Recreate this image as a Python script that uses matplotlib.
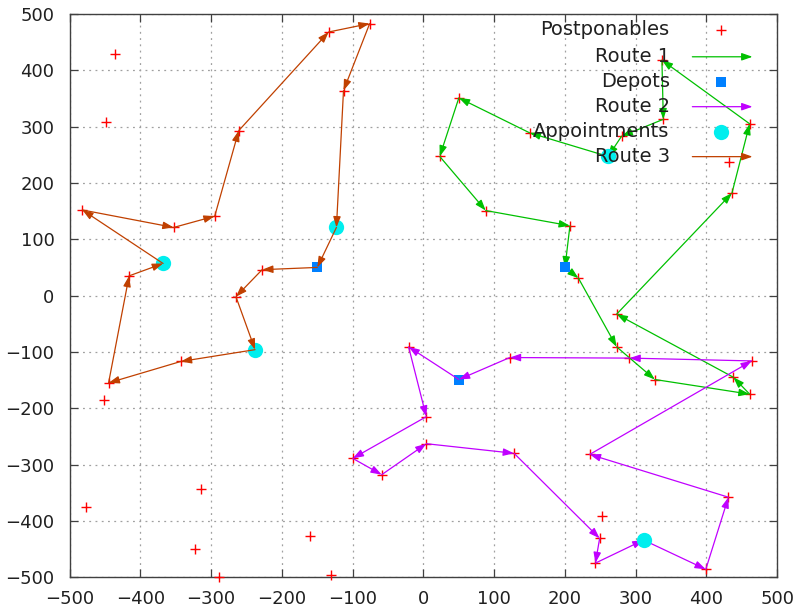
import matplotlib
matplotlib.use("Agg")
import matplotlib.pyplot as plt
from matplotlib.lines import Line2D

# ---------------- data ----------------
route1_x = [200, 219, 273, 327, 461, 438, 273, 436, 461, 337, 339, 280, 261, 150, 50, 23, 88, 207, 200]
route1_y = [50, 31, -91, -149, -175, -145, -33, 182, 305, 418, 313, 283, 247, 289, 351, 247, 151, 124, 50]

route2_x = [50, -21, 4, -100, -59, 4, 128, 249, 243, 311, 399, 431, 235, 464, 291, 122, 50]
route2_y = [-149, -91, -215, -289, -318, -263, -280, -431, -475, -434, -486, -358, -282, -116, -111, -110, -149]

route3_x = [-150, -228, -265, -238, -343, -445, -416, -368, -482, -353, -295, -261, -134, -76, -113, -123, -150]
route3_y = [50, 46, -2, -96, -117, -155, 35, 57, 152, 121, 141, 293, 468, 483, 364, 121, 50]

depot_x = [200, 50, -150]
depot_y = [50, -149, 50]

appt_x = [261, 311, -123, -238, -368]
appt_y = [247, -434, 121, -96, 57]

post_x = [219, 273, 327, 461, 438, 273, 436, 461, 337, 339, 280, 150, 50, 23, 88, 207,
          -21, 4, -100, -59, 4, 128, 249, 243, 399, 431, 235, 464, 291, 122,
          -228, -265, -343, -445, -416, -482, -353, -295, -261, -134, -76, -113,
          -436, -449, -451, -477, -314, -323, -289, -160, -130, 253, 432]
post_y = [31, -91, -149, -175, -145, -33, 182, 305, 418, 313, 283, 289, 351, 247, 151, 124,
          -91, -215, -289, -318, -263, -280, -431, -475, -486, -358, -282, -116, -111, -110,
          46, -2, -117, -155, 35, 152, 121, 141, 293, 468, 483, 364,
          429, 308, -185, -375, -343, -450, -500, -427, -496, -391, 237]

legend_labels = ["Postponables", "Route 1", "Depots", "Route 2", "Appointments", "Route 3"]
x_ticks = [-500, -400, -300, -200, -100, 0, 100, 200, 300, 400, 500]
y_ticks = [-500, -400, -300, -200, -100, 0, 100, 200, 300, 400, 500]

# ---------------- style ----------------
C_POST = "#ff0000"
C_R1 = "#00c000"
C_DEP = "#0080ff"
C_R2 = "#c000ff"
C_APP = "#00eeee"
C_R3 = "#c04000"
TXT = "#202020"

plt.rcParams['font.family'] = ['DejaVu Sans']

fig = plt.figure(figsize=(7.98, 6.16), dpi=100)
ax = fig.add_axes([0.0873, 0.0630, 0.8867, 0.9143])
ax.set_xlim(-500, 500)
ax.set_ylim(-500, 500)
ax.set_xticks(x_ticks)
ax.set_yticks(y_ticks)
ax.tick_params(axis='both', direction='in', length=6, width=0.9, color='#404040',
               labelsize=13, labelcolor=TXT, top=True, right=True)
ax.tick_params(axis='x', pad=9)
ax.tick_params(axis='y', pad=11)
for s in ax.spines.values():
    s.set_color('#404040')
    s.set_linewidth(1.0)
ax.grid(True, color='#a0a0a0', linestyle=(0, (1.5, 3.5)), linewidth=0.9)
ax.set_axisbelow(True)

ARW = dict(arrowstyle='-|>,head_length=0.8,head_width=0.28', lw=0.9,
           shrinkA=0, shrinkB=0, mutation_scale=8)

def draw_route(xs, ys, color, z):
    for i in range(len(xs) - 1):
        ax.annotate("", xy=(xs[i + 1], ys[i + 1]), xytext=(xs[i], ys[i]),
                    xycoords='data', textcoords='data',
                    arrowprops=dict(ARW, color=color), zorder=z)

ax.plot(post_x, post_y, linestyle='none', marker='+', markersize=7, mew=1.0,
        color=C_POST, zorder=3, clip_on=False)
draw_route(route1_x, route1_y, C_R1, 4)
ax.plot(depot_x, depot_y, linestyle='none', marker='s', markersize=6.5, mew=0,
        color=C_DEP, zorder=5)
draw_route(route2_x, route2_y, C_R2, 6)
ax.plot(appt_x, appt_y, linestyle='none', marker='o', markersize=11, mew=0,
        color=C_APP, zorder=7)
draw_route(route3_x, route3_y, C_R3, 8)

# ---------------- legend (gnuplot style: text right-aligned, sample right) ----------------
rows = [0.9716, 0.924, 0.8798, 0.8354, 0.791, 0.7467]
tx = 0.848
sx0, sx1, smid = 0.880, 0.965, 0.920
kinds = [('m', '+', C_POST, 7), ('a', None, C_R1, 0), ('m', 's', C_DEP, 6.5),
         ('a', None, C_R2, 0), ('m', 'o', C_APP, 11), ('a', None, C_R3, 0)]
for lab, yy, (k, mk, col, ms) in zip(legend_labels, rows, kinds):
    ax.text(tx, yy, lab, transform=ax.transAxes, ha='right', va='center',
            fontsize=14, color=TXT, zorder=20)
    if k == 'm':
        ax.plot([smid], [yy], transform=ax.transAxes, marker=mk, markersize=ms,
                mew=1.0 if mk == '+' else 0, color=col, linestyle='none', zorder=20,
                clip_on=False)
    else:
        ax.annotate("", xy=(sx1, yy), xytext=(sx0, yy), xycoords='axes fraction',
                    textcoords='axes fraction', arrowprops=dict(ARW, color=col), zorder=20)

fig.savefig("out.png", dpi=100)
